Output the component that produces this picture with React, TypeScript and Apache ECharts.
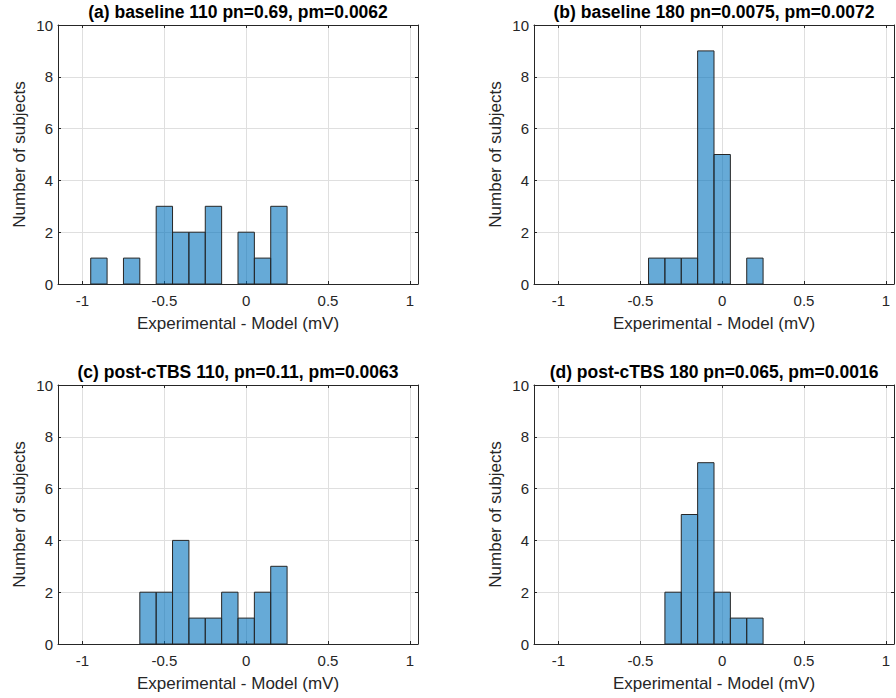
import React, { useEffect, useRef } from "react";
import * as echarts from "echarts";

// Histogram bin centres (mV) and counts for each panel
const BIN_WIDTH = 0.1;
const binsA = [-0.9, -0.7, -0.5, -0.4, -0.3, -0.2, 0.0, 0.1, 0.2];
const countsA = [1, 1, 3, 2, 2, 3, 2, 1, 3];
const binsB = [-0.4, -0.3, -0.2, -0.1, 0.0, 0.2];
const countsB = [1, 1, 1, 9, 5, 1];
const binsC = [-0.6, -0.5, -0.4, -0.3, -0.2, -0.1, 0.0, 0.1, 0.2];
const countsC = [2, 2, 4, 1, 1, 2, 1, 2, 3];
const binsD = [-0.3, -0.2, -0.1, 0.0, 0.1, 0.2];
const countsD = [2, 5, 7, 2, 1, 1];

const titles = [
  "(a) baseline 110 pn=0.69, pm=0.0062",
  "(b) baseline 180 pn=0.0075, pm=0.0072",
  "(c) post-cTBS 110, pn=0.11, pm=0.0063",
  "(d) post-cTBS 180 pn=0.065, pm=0.0016",
];
const xTicks = [-1, -0.5, 0, 0.5, 1];
const xTickLabels = ["-1", "-0.5", "0", "0.5", "1"];
const X_MIN = -1.15;
const X_MAX = 1.05;
const Y_MIN = 0;
const Y_MAX = 10;
const Y_STEP = 2;
const xName = "Experimental - Model (mV)";
const yName = "Number of subjects";

const FONT = "'Liberation Sans', Arial, Helvetica, sans-serif";
const AX = "#262626";
const GRIDC = "#dfdfdf";

const grids = [
  { left: 58, top: 25, width: 360, height: 259 },
  { left: 534, top: 25, width: 360, height: 259 },
  { left: 58, top: 385, width: 360, height: 259 },
  { left: 534, top: 385, width: 360, height: 259 },
];

export default function App() {
  const ref = useRef<HTMLDivElement>(null);
  useEffect(() => {
    if (!ref.current) return;
    const chart = echarts.init(ref.current, undefined, { renderer: "svg" });
    const panels = [
      [binsA, countsA],
      [binsB, countsB],
      [binsC, countsC],
      [binsD, countsD],
    ];
    const xAxes: any[] = [];
    const yAxes: any[] = [];
    const series: any[] = [];
    const graphics: any[] = [];
    grids.forEach((g, i) => {
      xAxes.push({
        type: "value",
        gridIndex: i,
        min: X_MIN,
        max: X_MAX,
        position: "bottom",
        name: xName,
        nameLocation: "middle",
        nameGap: 31,
        nameTextStyle: { fontFamily: FONT, fontSize: 17, color: AX },
        axisLine: { show: true, onZero: false, lineStyle: { color: AX, width: 1 } },
        axisTick: { show: true, inside: true, length: 3, customValues: xTicks, lineStyle: { color: AX } },
        axisLabel: {
          customValues: xTicks,
          formatter: (v: number) => xTickLabels[xTicks.indexOf(v)] ?? String(v),
          fontFamily: FONT,
          fontSize: 15,
          color: AX,
          margin: 9,
        },
        splitLine: { show: true, lineStyle: { color: GRIDC, width: 1 } },
      });
      yAxes.push({
        type: "value",
        gridIndex: i,
        min: Y_MIN,
        max: Y_MAX,
        interval: Y_STEP,
        position: "left",
        name: yName,
        nameLocation: "middle",
        nameGap: 30,
        nameTextStyle: { fontFamily: FONT, fontSize: 17, color: AX },
        axisLine: { show: true, onZero: false, lineStyle: { color: AX, width: 1 } },
        axisTick: { show: true, inside: true, length: 3, lineStyle: { color: AX } },
        axisLabel: { fontFamily: FONT, fontSize: 15, color: AX, margin: 5 },
        splitLine: { show: true, lineStyle: { color: GRIDC, width: 1 } },
      });
      const [bins, counts] = panels[i];
      series.push({
        type: "custom",
        xAxisIndex: i,
        yAxisIndex: i,
        data: (bins as number[]).map((b, k) => [b, (counts as number[])[k]]),
        renderItem: (params: any, api: any) => {
          const c = api.value(0);
          const n = api.value(1);
          const p1 = api.coord([c - BIN_WIDTH / 2, n]);
          const p2 = api.coord([c + BIN_WIDTH / 2, 0]);
          return {
            type: "rect",
            shape: { x: p1[0], y: p1[1], width: p2[0] - p1[0], height: p2[1] - p1[1] },
            style: { fill: "rgba(0,114,189,0.6)", stroke: "#262626", lineWidth: 1 },
          };
        },
        z: 3,
      });
      graphics.push({
        type: "text",
        x: g.left + g.width / 2,
        y: g.top - 13,
        style: {
          text: titles[i],
          fontFamily: FONT,
          fontSize: 17.5,
          fontWeight: "bold",
          fill: "#000",
          align: "center",
          verticalAlign: "middle",
        },
      });
    });
    // box (top and right) axes
    grids.forEach((g, i) => {
      xAxes.push({
        type: "value",
        gridIndex: i,
        min: X_MIN,
        max: X_MAX,
        position: "top",
        axisLine: { show: true, onZero: false, lineStyle: { color: AX, width: 1 } },
        axisTick: { show: true, inside: true, length: 3, customValues: xTicks, lineStyle: { color: AX } },
        axisLabel: { show: false },
        splitLine: { show: false },
      });
      yAxes.push({
        type: "value",
        gridIndex: i,
        min: Y_MIN,
        max: Y_MAX,
        interval: Y_STEP,
        position: "right",
        axisLine: { show: true, onZero: false, lineStyle: { color: AX, width: 1 } },
        axisTick: { show: true, inside: true, length: 3, lineStyle: { color: AX } },
        axisLabel: { show: false },
        splitLine: { show: false },
      });
    });
    chart.setOption({
      animation: false,
      backgroundColor: "#fff",
      grid: grids.map((g) => ({ ...g, containLabel: false })),
      xAxis: xAxes,
      yAxis: yAxes,
      series,
      graphic: graphics,
    });
    return () => chart.dispose();
  }, []);
  return (
    <div
      ref={ref}
      style={{ position: "absolute", left: 0, top: 0, width: 896, height: 698 }}
    />
  );
}
